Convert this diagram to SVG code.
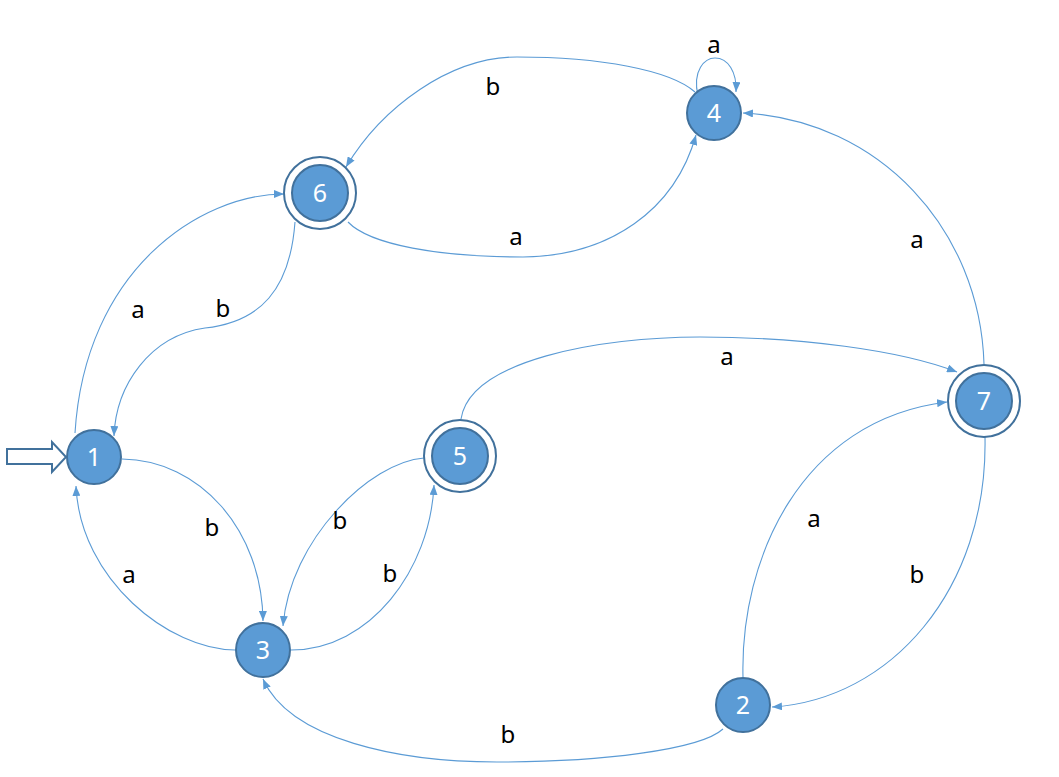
<svg xmlns="http://www.w3.org/2000/svg" width="1059" height="777" viewBox="0 0 1059 777">
  <defs>
    <marker id="arr" viewBox="0 0 10 8" refX="10" refY="4" markerWidth="10" markerHeight="8" markerUnits="userSpaceOnUse" orient="auto">
      <path d="M0,0 L10,4 L0,8 z" fill="#5B9BD5"/>
    </marker>
    <style>
      .edge { fill: none; stroke: #5B9BD5; stroke-width: 1.1; marker-end: url(#arr); }
      .node { fill: #5B9BD5; stroke: #41719C; stroke-width: 2; }
      .ring { fill: #FFFFFF; stroke: #41719C; stroke-width: 2; }
      .nlabel { fill: #FFFFFF; font-family: "Noto Sans", "Open Sans", sans-serif; font-size: 25px; text-anchor: middle; }
      .elabel { fill: #000000; font-family: "Noto Sans", "Open Sans", sans-serif; font-size: 24px; text-anchor: middle; }
    </style>
  </defs>
  <rect width="1059" height="777" fill="#FFFFFF"/>

  <g id="connectors">
    <path class="edge" d="M75,433 C85,270 200,194 284,194"/>
    <path class="edge" d="M295,222 C290,290 260,322 205,328 C150,336 116,385 114,436"/>
    <path class="edge" d="M348,222 C370,245 440,257 523,257 C610,256 675,210 696,135"/>
    <path class="edge" d="M695,92 C670,70 600,57 517,57 C450,57 382,107 346,167"/>
    <path class="edge" d="M698,96 C692,70 705,58 715,58 C728,58 737,72 736,92"/>
    <path class="edge" d="M984,364 C980,230 880,120 743,113"/>
    <path class="edge" d="M461,419 C470,360 600,337 700,337 C800,337 900,350 957,372"/>
    <path class="edge" d="M743,677 C740,560 800,420 947,402"/>
    <path class="edge" d="M985,437 C988,590 890,700 772,707"/>
    <path class="edge" d="M723,729 C700,750 600,762 497,762 C400,762 290,740 263,679"/>
    <path class="edge" d="M122,459 C200,460 262,530 263,621"/>
    <path class="edge" d="M235,650 C170,650 80,580 76,486"/>
    <path class="edge" d="M424,458 C370,462 290,540 283,626"/>
    <path class="edge" d="M291,650 C370,650 430,570 434,485"/>
    <polygon points="7,449 52,449 52,442 66,457 52,472 52,464 7,464" fill="#FFFFFF" stroke="#41719C" stroke-width="2"/>
    <text class="elabel" x="138" y="318">a</text>
    <text class="elabel" x="223" y="317">b</text>
    <text class="elabel" x="493" y="95">b</text>
    <text class="elabel" x="516" y="245">a</text>
    <text class="elabel" x="714" y="53">a</text>
    <text class="elabel" x="917" y="248">a</text>
    <text class="elabel" x="727" y="365">a</text>
    <text class="elabel" x="814" y="527">a</text>
    <text class="elabel" x="917" y="583">b</text>
    <text class="elabel" x="508" y="743">b</text>
    <text class="elabel" x="212" y="536">b</text>
    <text class="elabel" x="129" y="583">a</text>
    <text class="elabel" x="340" y="529">b</text>
    <text class="elabel" x="390" y="582">b</text>
  </g>

  <g id="node1">
    <circle class="node" cx="94" cy="457" r="27"/>
    <text class="nlabel" x="94" y="466">1</text>
  </g>
  <g id="node2">
    <circle class="node" cx="743" cy="705" r="27"/>
    <text class="nlabel" x="743" y="714">2</text>
  </g>
  <g id="node3">
    <circle class="node" cx="263" cy="650" r="27"/>
    <text class="nlabel" x="263" y="659">3</text>
  </g>
  <g id="node4">
    <circle class="node" cx="714" cy="113" r="27"/>
    <text class="nlabel" x="714" y="122">4</text>
  </g>
  <g id="node5">
    <circle class="ring" cx="460" cy="456" r="36"/>
    <circle class="node" cx="460" cy="456" r="28"/>
    <text class="nlabel" x="460" y="465">5</text>
  </g>
  <g id="node6">
    <circle class="ring" cx="320" cy="193" r="36"/>
    <circle class="node" cx="320" cy="193" r="28"/>
    <text class="nlabel" x="320" y="202">6</text>
  </g>
  <g id="node7">
    <circle class="ring" cx="984" cy="401" r="36"/>
    <circle class="node" cx="984" cy="401" r="28"/>
    <text class="nlabel" x="984" y="410">7</text>
  </g>
</svg>
